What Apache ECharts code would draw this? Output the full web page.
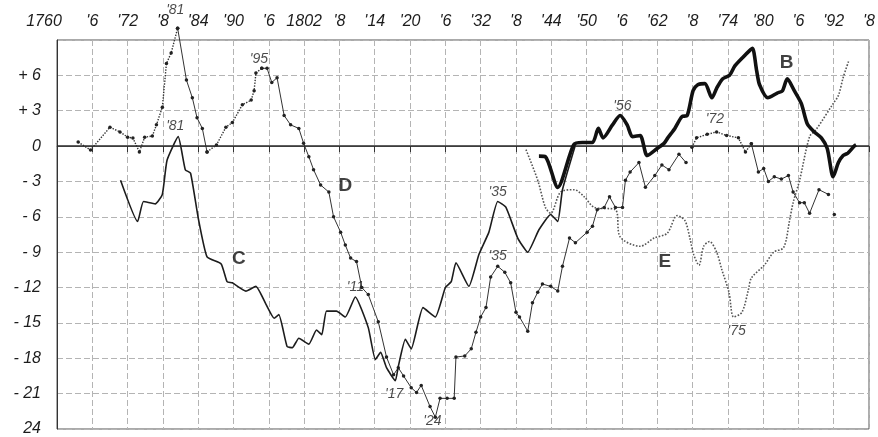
<!DOCTYPE html>
<html>
<head>
<meta charset="utf-8">
<script src="https://cdn.jsdelivr.net/npm/echarts@6/dist/echarts.min.js"></script>
<style>
  html, body { margin: 0; padding: 0; background: #fff; }
  #chart { width: 878px; height: 437px; }
</style>
</head>
<body>
<div id="chart"></div>
<script>
// Year ticks along the top edge (every six years, 1760-1898)
const xTickLabels = ['1760', "'6", "'72", "'8", "'84", "'90", "'6", '1802', "'8", "'14", "'20", "'6",
  "'32", "'8", "'44", "'50", "'6", "'62", "'8", "'74", "'80", "'6", "'92", "'8"];
// Scale ticks from +9 down to -24, step 3
const yTickValues = [9, 6, 3, 0, -3, -6, -9, -12, -15, -18, -21, -24];
const yTickLabels = ['', '+ 6', '+ 3', '0', '- 3', '- 6', '- 9', '- 12', '- 15', '- 18', '- 21', '24'];

// Curve B: [year, value]
const seriesB = [[1841.9,-0.85],[1843.0,-0.9],[1845.1,-3.5],[1847.8,0.1],[1849.3,0.3],[1851.0,0.3],[1852.0,1.5],
  [1852.8,0.7],[1854.4,1.8],[1855.7,2.6],[1856.9,1.8],[1857.8,0.8],[1859.1,0.9],[1860.3,-0.8],[1862.0,-0.2],
  [1863.2,0.25],[1863.8,0.7],[1865.0,1.5],[1866.2,2.5],[1867.1,2.6],[1868.1,4.7],[1868.9,5.2],[1870.1,5.3],
  [1871.3,4.1],[1872.1,4.9],[1873.1,5.7],[1874.3,6.0],[1875.2,6.8],[1876.5,7.5],[1877.7,8.1],[1878.2,8.3],
  [1878.9,6.4],[1879.4,5.2],[1880.8,4.1],[1882.4,4.5],[1883.3,4.7],[1884.1,5.7],[1885.3,4.7],[1886.5,3.6],
  [1887.5,1.9],[1888.7,1.2],[1889.9,0.7],[1890.9,-0.2],[1891.9,-2.6],[1892.8,-1.4],[1893.6,-0.8],
  [1894.4,-0.6],[1895.5,0.0],[1895.8,0.1]];

// Curve C
const seriesC = [[1770.8,-2.9],[1773.7,-6.4],[1774.7,-4.7],[1776.7,-4.9],[1777.9,-4.1],[1778.7,-1.2],[1780.6,0.8],
  [1781.8,-2.0],[1782.7,-2.3],[1784.0,-6.1],[1785.5,-9.4],[1787.9,-10.0],[1788.9,-11.5],[1789.8,-11.6],
  [1792.1,-12.3],[1793.8,-11.9],[1795.5,-13.4],[1796.9,-14.6],[1797.7,-14.3],[1799.1,-17.0],[1800.0,-17.1],
  [1801.1,-16.3],[1802.8,-16.8],[1804.1,-15.6],[1805.0,-16.0],[1805.8,-14.0],[1807.5,-14.0],[1809.0,-14.5],
  [1810.7,-12.8],[1812.9,-15.4],[1814.1,-18.1],[1815.0,-17.5],[1816.0,-18.8],[1817.5,-19.9],[1818.0,-18.7],
  [1819.2,-16.4],[1820.2,-17.2],[1822.2,-13.7],[1824.3,-14.5],[1826.0,-12.0],[1827.0,-11.5],[1827.8,-9.9],
  [1830.0,-11.9],[1831.7,-9.2],[1833.4,-7.3],[1834.9,-4.7],[1836.3,-5.2],[1838.3,-7.8],[1840.0,-9.0],
  [1841.9,-7.1],[1843.9,-5.8],[1845.1,-6.4],[1845.9,-3.7],[1848.1,0.1]];

// Curve D, in stretches (dotted rises, ruled falls)
const seriesD1 = [[1763.6,0.34],[1765.7,-0.34],[1769.0,1.6],[1770.7,1.2],[1772.0,0.76],[1772.9,0.68],[1774.0,-0.5],
  [1774.9,0.76],[1776.2,0.85],[1776.9,1.8],[1777.9,3.3],[1778.6,7.0],[1779.4,7.9],[1780.5,10.0]];
const seriesD2 = [[1780.5,10.0],[1782.0,5.6],[1783.0,4.1],[1783.8,2.4],[1784.7,1.5],[1785.5,-0.5]];
const seriesD3 = [[1785.5,-0.5],[1787.1,0.1],[1788.7,1.6],[1789.8,2.0],[1791.5,3.5],[1793.0,3.9],[1793.5,4.7],
  [1793.8,6.2],[1794.8,6.6]];
const seriesD4 = [[1794.8,6.6],[1795.7,6.6],[1796.5,5.4],[1797.4,5.8],[1798.6,2.6],[1799.7,1.8],[1801.1,1.5],
  [1801.9,0.25],[1802.8,-0.9],[1803.6,-2.0],[1804.8,-3.3],[1806.2,-3.9],[1807.0,-6.0],[1808.2,-7.3],
  [1809.0,-8.4],[1809.9,-9.5],[1810.9,-9.8],[1811.8,-12.0],[1812.9,-12.6],[1814.6,-14.9],[1816.0,-17.9],
  [1817.2,-19.4],[1818.0,-18.8],[1818.9,-19.5],[1820.2,-20.5],[1821.1,-20.9],[1821.9,-20.3],[1823.4,-22.1],
  [1824.3,-23.0],[1825.1,-21.4],[1826.3,-21.4],[1827.5,-21.4],[1827.8,-17.9],[1829.3,-17.8],[1830.4,-17.2],
  [1831.2,-15.8],[1832.0,-14.5],[1832.9,-13.7],[1833.7,-11.1],[1834.9,-10.2],[1836.1,-10.7],[1837.1,-11.6],
  [1838.0,-14.1],[1838.6,-14.5],[1840.0,-15.7],[1840.8,-13.3],[1841.7,-12.4],[1842.5,-11.7],[1843.9,-11.9],
  [1845.1,-12.3],[1845.9,-10.2],[1847.1,-7.8],[1848.1,-8.2],[1850.1,-7.3],[1851.0,-6.8],[1851.8,-5.4],
  [1853.0,-5.2],[1853.9,-4.3],[1854.9,-5.2],[1856.1,-5.2],[1856.6,-2.9],[1857.4,-2.2],[1858.9,-1.4],
  [1860.0,-3.5],[1861.6,-2.5],[1862.8,-1.6],[1864.0,-2.0],[1865.7,-0.7],[1866.9,-1.4]];
const seriesD5 = [[1867.9,-0.1],[1868.7,0.7],[1870.5,1.0],[1872.1,1.2],[1873.8,0.9],[1875.8,0.7],[1877.0,-0.5],[1878.0,0.2]];
const seriesD6 = [[1878.0,0.2],[1879.2,-2.2],[1880.1,-1.9],[1880.9,-3.0],[1881.9,-2.6],[1883.1,-2.8],[1884.3,-2.5],
  [1885.1,-3.9],[1886.2,-4.8],[1887.0,-4.8],[1887.9,-5.7],[1889.5,-3.7],[1891.1,-4.1]];
const seriesD7 = [[1892.1,-5.8]];

// Curve E
const seriesE = [[1839.7,-0.3],[1841.7,-2.9],[1843.0,-5.2],[1843.9,-5.7],[1845.6,-3.9],[1847.9,-3.7],[1849.6,-4.3],
  [1851.3,-5.2],[1854.9,-5.4],[1855.7,-7.7],[1859.1,-8.5],[1861.5,-7.8],[1863.7,-7.4],[1865.4,-5.9],[1866.7,-6.3],
  [1867.6,-7.9],[1868.2,-9.2],[1869.1,-10.1],[1869.9,-8.5],[1870.9,-8.1],[1872.1,-9.0],[1873.0,-10.5],
  [1874.2,-12.4],[1875.0,-14.5],[1876.4,-14.1],[1877.5,-12.2],[1878.0,-11.2],[1880.2,-10.1],[1881.8,-9.0],
  [1883.5,-8.6],[1884.5,-6.3],[1885.1,-4.8],[1886.2,-2.9],[1887.9,0.8],[1889.0,1.4],[1891.9,3.6],[1892.8,4.3],
  [1893.6,5.8],[1894.6,7.3]];

// Year notes written beside the curves: [year, value, text]
const yearNotes = [[1780.1,11.5,"'81"],[1780.1,1.7,"'81"],[1794.3,7.4,"'95"],[1810.7,-12.0,"'11"],
  [1817.3,-21.0,"'17"],[1823.8,-23.3,"'24"],[1834.9,-3.9,"'35"],[1834.9,-9.3,"'35"],[1856.1,3.4,"'56"],
  [1871.8,2.3,"'72"],[1875.5,-15.7,"'75"]];
// Curve letters
const curveNames = [[1809.0,-3.4,'D'],[1790.9,-9.6,'C'],[1884.0,7.1,'B'],[1863.3,-9.8,'E']];

const handFont = 'Liberation Sans';
const ink = '#1c1c1c';

function dSeg(data, dotted) {
  return {
    type: 'line', data: data, smooth: false, clip: false,
    symbol: 'circle', symbolSize: 3.5, showSymbol: true,
    itemStyle: { color: '#222' },
    lineStyle: { color: '#333', width: dotted ? 1.4 : 1, type: dotted ? 'dotted' : 'solid' },
    z: 3
  };
}

const chart = echarts.init(document.getElementById('chart'), null, { renderer: 'canvas' });
chart.setOption({
  animation: false,
  backgroundColor: '#fff',
  grid: { left: 57, right: 5, top: 40, bottom: 7, show: true, borderColor: '#555', borderWidth: 1 },
  xAxis: {
    type: 'value', position: 'top', min: 1760, max: 1898, interval: 6,
    axisLine: { show: true, lineStyle: { color: '#777' } },
    axisTick: { show: true, inside: true, length: 6, lineStyle: { color: '#333' } },
    axisLabel: {
      margin: 10, fontSize: 16, fontStyle: 'italic', fontFamily: handFont, color: ink,
      showMinLabel: true, showMaxLabel: true,
      formatter: function (v) {
        const t = xTickLabels[Math.round((v - 1760) / 6)] || '';
        return v === 1760 ? '{first|' + t + '}' : t;
      },
      rich: { first: { padding: [0, 26, 0, 0], fontSize: 16, fontStyle: 'italic', fontFamily: handFont, color: ink } }
    },
    splitLine: { show: true, lineStyle: { color: '#b4b4b4', type: [6, 3], width: 1 } }
  },
  yAxis: {
    type: 'value', min: -24, max: 9, interval: 3,
    axisLine: { show: true, lineStyle: { color: '#333' } },
    axisTick: { show: false },
    axisLabel: {
      margin: 16, fontSize: 16, fontStyle: 'italic', fontFamily: handFont, color: ink,
      formatter: function (v) {
        const i = yTickValues.indexOf(Math.round(v));
        return i >= 0 ? yTickLabels[i] : '';
      }
    },
    splitLine: { show: true, lineStyle: { color: '#b4b4b4', type: [6, 3], width: 1 } }
  },
  series: [
    {
      type: 'line', data: seriesE, smooth: 0.3, symbol: 'none',
      lineStyle: { color: '#555', width: 1.6, type: 'dotted' }, z: 2,
      markLine: {
        silent: true, symbol: 'none', label: { show: false },
        lineStyle: { color: '#2a2a2a', width: 1.5, type: 'solid' },
        data: [{ yAxis: 0 }]
      }
    },
    dSeg(seriesD1, true), dSeg(seriesD2, false), dSeg(seriesD3, true), dSeg(seriesD4, false),
    dSeg(seriesD5, true), dSeg(seriesD6, false), dSeg(seriesD7, false),
    {
      type: 'line', data: seriesC, smooth: 0.15, symbol: 'none',
      lineStyle: { color: ink, width: 1.6 }, z: 4
    },
    {
      type: 'line', data: seriesB, smooth: 0.25, symbol: 'none',
      lineStyle: { color: '#111', width: 3.6 }, z: 5
    },
    {
      type: 'scatter', data: yearNotes, symbolSize: 0, clip: false, silent: true, z: 6,
      label: {
        show: true, position: 'inside', formatter: function (p) { return p.data[2]; },
        fontSize: 14, fontStyle: 'italic', fontFamily: handFont, color: ink
      }
    },
    {
      type: 'scatter', data: curveNames, symbolSize: 0, clip: false, silent: true, z: 6,
      label: {
        show: true, position: 'inside', formatter: function (p) { return p.data[2]; },
        fontSize: 19, fontWeight: 'bold', fontFamily: handFont, color: '#111'
      }
    }
  ]
});
</script>
</body>
</html>
